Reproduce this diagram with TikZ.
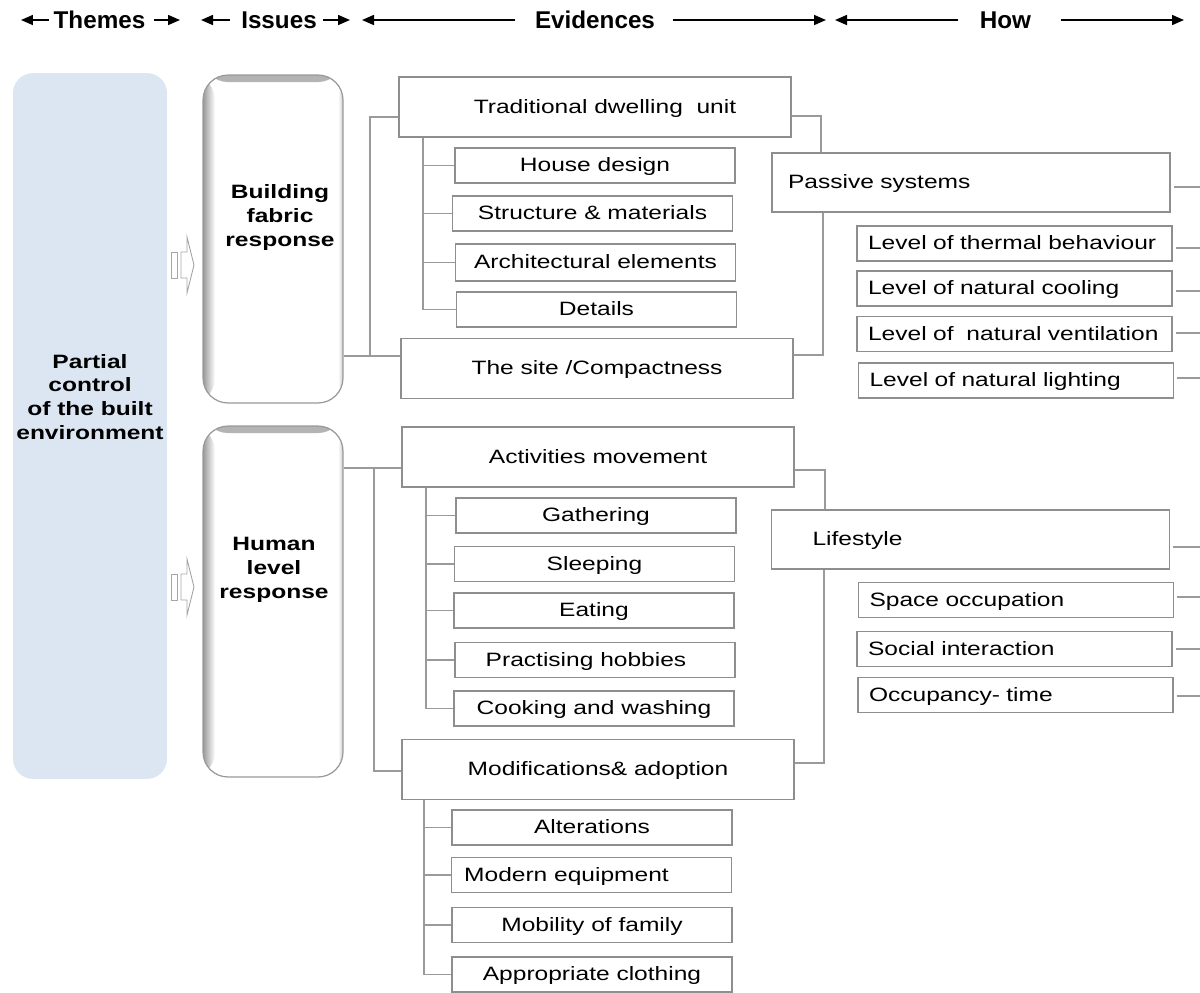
\documentclass[tikz,border=0pt]{standalone}
\usepackage{fontspec}
\setmainfont{Liberation Sans}[FakeStretch=1.27]
\newfontfamily\hdrfont{Liberation Sans}
\usetikzlibrary{arrows.meta}
\definecolor{boxgray}{HTML}{8E8E8E}
\definecolor{linegray}{HTML}{9A9A9A}
\definecolor{themeblue}{HTML}{DCE6F2}

\begin{document}
\begin{tikzpicture}[x=0.02cm,y=-0.02cm,line width=0.7pt,
  font=\fontsize{11}{13.6}\selectfont,
  evbig/.style={draw=boxgray,minimum width=7.84cm,minimum height=1.2cm,inner sep=0pt,text height=0.75em,text depth=0.04em},
  evsub/.style={draw=boxgray,minimum width=5.6cm,minimum height=0.7cm,inner sep=0pt,text height=0.75em,text depth=0.04em},
  howbig/.style={draw=boxgray,text width=7.32cm,align=left,inner xsep=0.32cm,inner ysep=0pt,minimum height=1.18cm,text height=0.75em,text depth=0.04em},
  howsub/.style={draw=boxgray,text width=5.86cm,align=left,inner xsep=0.22cm,inner ysep=0pt,minimum height=0.7cm,text height=0.75em,text depth=0.04em},
  issue/.style={draw=gray!80,rounded corners=0.5cm,minimum width=2.8cm,fill=white,inner sep=0pt,
    path picture={
      \shade[top color=gray!60,bottom color=white] (path picture bounding box.north west) rectangle ([yshift=-0.14cm]path picture bounding box.north east);
      \shade[left color=gray!80,right color=white] (path picture bounding box.north west) rectangle ([xshift=0.24cm]path picture bounding box.south west);
      \shade[left color=white,right color=gray!40] ([xshift=-0.1cm]path picture bounding box.north east) rectangle (path picture bounding box.south east);
    }},
  isstext/.style={font=\fontsize{11}{13.6}\selectfont\bfseries,align=center},
  hdr/.style={font=\hdrfont\fontsize{13.8}{16}\selectfont\bfseries,inner sep=0pt},
  hd/.style={-{Triangle[length=0.24cm,width=0.2cm]},line width=0.9pt},
  ln/.style={draw=linegray,line width=0.6pt},
  stripe/.style={draw=gray!70,line width=0.5pt,fill=white}]
  \useasboundingbox (0,0) rectangle (1200,992);

  % header
  \node[hdr] (themes) at (99.5,20) {Themes};
  \node[hdr] (issues) at (279,20) {Issues};
  \node[hdr] (evid) at (595,20) {Evidences};
  \node[hdr] (how) at (1005.5,20) {How};
  \coordinate (themes-L) at (21,20);  \coordinate (themes-R) at (180,20);
  \coordinate (issues-L) at (201,20); \coordinate (issues-R) at (350,20);
  \coordinate (evid-L) at (362,20);   \coordinate (evid-R) at (826,20);
  \coordinate (how-L) at (835,20);    \coordinate (how-R) at (1184,20);
  \foreach \n/\a/\b in {themes/0.08/0.16,issues/0.22/0.12,evid/0.38/0.34,how/0.42/0.58}{
    \draw[hd] ([xshift=-\a cm]\n.west) -- (\n-L);
    \draw[hd] ([xshift=\b cm]\n.east) -- (\n-R);
  }

  % themes and issues
  \node[fill=themeblue,rounded corners=0.4cm,minimum width=3.08cm,minimum height=14.12cm,inner sep=0pt] (theme) at (90,426) {};
  \node[isstext] (themetxt) at (90,397) {Partial\\control\\of the built\\environment};
  \node[issue,minimum height=6.56cm] (bfr) at (273,239) {};
  \node[isstext] (bfrtxt) at (280,217.5) {Building\\fabric\\response};
  \node[issue,minimum height=7.02cm] (hlr) at (273,601.5) {};
  \node[isstext] (hlrtxt) at (274,570) {Human\\level\\response};
  \foreach \yc in {265,587}{
    \draw[stripe] (171,\yc-13) rectangle (177,\yc+13);
    \draw[stripe] (181,\yc-13) -- (187,\yc-13) -- (187,\yc-28) -- (194,\yc) -- (187,\yc+28) -- (187,\yc+13) -- (181,\yc+13) -- cycle;
  }

  % evidences, building fabric
  \node[evbig] (tdu) at (595,107) {\hspace*{0.4cm}Traditional dwelling\ \ unit};
  \node[evsub] (house) at (595,165.5) {House design};
  \node[evsub] (struct) at (592.5,213.5) {Structure \& materials};
  \node[evsub,minimum height=0.74cm] (arch) at (595.5,262.5) {Architectural elements};
  \node[evsub] (details) at (596.5,309.5) {Details};
  \node[evbig] (site) at (597,368.5) {The site /Compactness};

  % evidences, human level
  \node[evbig] (act) at (598,457) {Activities movement};
  \node[evsub] (gath) at (596,515.5) {Gathering};
  \node[evsub] (sleep) at (594.5,564) {Sleeping};
  \node[evsub] (eat) at (594,610.5) {Eating};
  \node[evsub] (hobby) at (595,660) {Practising hobbies\hspace*{0.36cm}};
  \node[evsub] (cook) at (594,708.5) {Cooking and washing};
  \node[evbig] (mod) at (598,769.5) {Modifications\& adoption};
  \node[evsub] (alter) at (592,827.5) {Alterations};
  \node[evsub] (modern) at (591.5,875) {Modern equipment\hspace*{1cm}};
  \node[evsub] (mobil) at (592,925) {Mobility of family};
  \node[evsub] (cloth) at (592,974.5) {Appropriate clothing};

  % how
  \node[howbig] (passive) at (971,182.5) {Passive systems};
  \node[howsub] (thermal) at (1014.5,243.5) {Level of thermal behaviour};
  \node[howsub] (cooling) at (1014.5,288.5) {Level of natural cooling};
  \node[howsub] (vent) at (1014.5,334) {Level of\ \ natural ventilation};
  \node[howsub] (light) at (1016,380.5) {Level of natural lighting};
  \node[howbig] (life) at (970.5,539.5) {\hspace*{0.5cm}Lifestyle};
  \node[howsub] (space) at (1016,600) {Space occupation};
  \node[howsub] (social) at (1014.5,649) {Social interaction};
  \node[howsub] (occ) at (1015.5,695) {Occupancy- time};

  % connectors, upper part
  \coordinate (j1) at (370,356);
  \coordinate (j2) at (370,117);
  \draw[ln] (bfr.east |- j1) -- (site.west |- j1);
  \draw[ln] (j1) -- (j2) -- (tdu.west |- j2);
  \coordinate (s1) at (423,0);
  \draw[ln] (tdu.south -| s1) -- (details.west -| s1);
  \foreach \n in {house,struct,arch,details}
    \draw[ln] (\n.west -| s1) -- (\n.west);
  \coordinate (r1) at (821,116);
  \coordinate (r2) at (823,355);
  \draw[ln] (tdu.east |- r1) -| (passive.north -| r1);
  \draw[ln] (site.east |- r2) -| (passive.south -| r2);

  % connectors, lower part
  \coordinate (j3) at (374,468);
  \coordinate (j4) at (374,771);
  \draw[ln] (hlr.east |- j3) -- (act.west |- j3);
  \draw[ln] (j3) |- (mod.west |- j4);
  \coordinate (s2) at (426,0);
  \draw[ln] (act.south -| s2) -- (cook.west -| s2);
  \foreach \n in {gath,sleep,eat,hobby,cook}
    \draw[ln] (\n.west -| s2) -- (\n.west);
  \coordinate (s3) at (424,0);
  \draw[ln] (mod.south -| s3) -- (cloth.west -| s3);
  \foreach \n in {alter,modern,mobil,cloth}
    \draw[ln] (\n.west -| s3) -- (\n.west);
  \coordinate (r3) at (825,470);
  \coordinate (r4) at (824,763);
  \draw[ln] (act.east |- r3) -| (life.north -| r3);
  \draw[ln] (mod.east |- r4) -| (life.south -| r4);

  % lines out to the right
  \coordinate (edge) at (1200,0);
  \foreach \n/\dy in {passive/-0.09,thermal/-0.09,cooling/-0.05,vent/0.02,light/0.05,life/-0.15,space/0.06,social/0,occ/-0.02}
    \draw[ln] ([xshift=0.06cm,yshift=\dy cm]\n.east) -- ([yshift=\dy cm]\n.east -| edge);
\end{tikzpicture}
\end{document}
